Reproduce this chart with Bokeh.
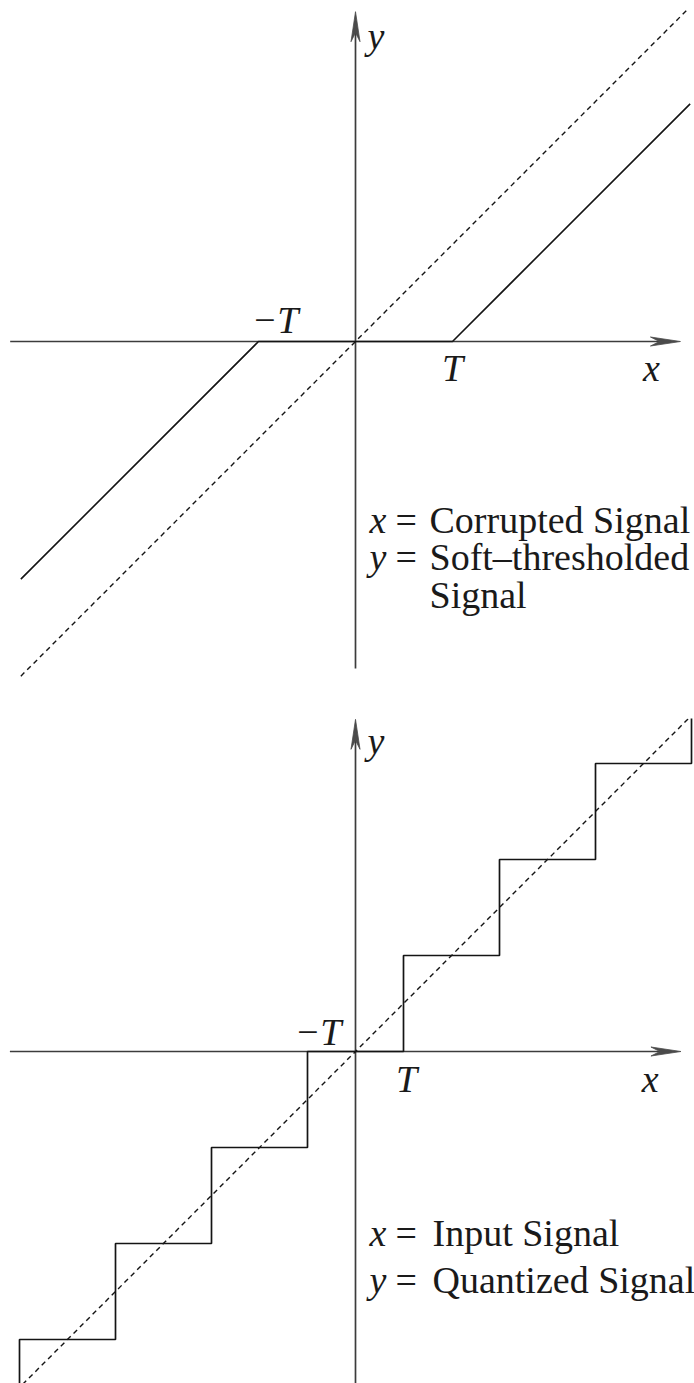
from bokeh.plotting import figure
from bokeh.layouts import column
from bokeh.models import Range1d, Label
from bokeh.embed import file_html
from bokeh.resources import INLINE

# ---- soft-threshold panel (threshold T = 1) ----
soft_T = 1.0
soft_in = [-3.45, -1.0, 1.0, 3.45]          # corrupted signal x
soft_out = [-2.45, 0.0, 0.0, 2.45]          # soft-thresholded y
soft_ident = [-3.45, 3.42]                  # extent of the dashed y = x line
soft_xaxis = [-3.56, 3.35]
soft_yaxis = [-3.37, 3.40]

# ---- quantizer panel (step q = 1, threshold T = q/2) ----
quant_T = 0.5
quant_edges = [-3.5, -2.5, -1.5, -0.5, 0.5, 1.5, 2.5, 3.5]
quant_levels = [-4, -3, -2, -1, 0, 1, 2, 3, 4]
quant_ident = [-3.6, 3.6]
quant_xaxis = [-3.6, 3.39]
quant_yaxis = [-3.46, 3.46]

W = 694
SERIF = "Liberation Serif"
AXIS_COL = "#3c3c3c"
INK = "#141414"
LIFT = 10   # raise every label a little above its nominal baseline


def make_panel(height, scale, ox, oy):
    """Figure whose frame spans the whole canvas; origin at pixel (ox, oy)."""
    p = figure(width=W, height=height, output_backend="svg", toolbar_location=None,
               x_axis_type=None, y_axis_type=None, min_border=0,
               x_range=Range1d(-ox / scale, (W - ox) / scale),
               y_range=Range1d(-(height - oy) / scale, oy / scale))
    p.grid.visible = False
    p.outline_line_color = None
    p.background_fill_color = "white"
    p.border_fill_color = "white"
    return p


def axes(p, scale, xspan, yspan):
    L, w, n = 30 / scale, 4.5 / scale, 9 / scale
    p.line([xspan[0], xspan[1] - L + n], [0, 0], line_color=AXIS_COL, line_width=1.7)
    p.line([0, 0], [yspan[0], yspan[1] - L + n], line_color=AXIS_COL, line_width=1.7)
    xt, yt = xspan[1], yspan[1]
    p.patch([xt, xt - L, xt - L + n, xt - L], [0, w, 0, -w],
            fill_color="#4a4a4a", line_color="#4a4a4a", line_width=0.8)
    p.patch([0, w, 0, -w], [yt, yt - L, yt - L + n, yt - L],
            fill_color="#4a4a4a", line_color="#4a4a4a", line_width=0.8)


def label(p, text, x, y, xo=0, yo=0, align="left", italic=True, size=38):
    p.add_layout(Label(x=x, y=y, x_offset=xo, y_offset=yo + LIFT, text=text,
                       text_font=SERIF, text_font_size=f"{size}px",
                       text_font_style="italic" if italic else "normal",
                       text_align=align, text_baseline="alphabetic",
                       text_color="#1a1a1a"))


# ---------------- top: soft thresholding ----------------
S1 = 97.0
p1 = make_panel(718, S1, 355, 341)
axes(p1, S1, soft_xaxis, soft_yaxis)
p1.line(soft_ident, soft_ident, line_color=INK, line_width=1.4, line_dash="5 4")
p1.line(soft_in, soft_out, line_color=INK, line_width=1.6)

label(p1, "y", 0, soft_yaxis[1], xo=12, yo=-34)
label(p1, "x", 3.05, 0, yo=-36, align="center")
label(p1, "T", soft_T, 0, yo=-36, align="center")
label(p1, "\u2212T", -soft_T, 0, xo=40, yo=12, align="right")

for txt_var, txt_rest, by in [("x", "Corrupted Signal", 529), ("y", "Soft\u2013thresholded", 566)]:
    yb = (341 - by) / S1
    label(p1, txt_var, 0, yb, xo=14)
    label(p1, "=", 0, yb, xo=40, italic=False)
    label(p1, txt_rest, 0, yb, xo=74, italic=False)
label(p1, "Signal", 0, (341 - 604) / S1, xo=74, italic=False)

# ---------------- bottom: quantization ----------------
S2 = 96.0
p2 = make_panel(665, S2, 355, 333)
axes(p2, S2, quant_xaxis, quant_yaxis)
p2.line(quant_ident, quant_ident, line_color=INK, line_width=1.4, line_dash="5 4")

qx, qy = [quant_edges[0]], [quant_levels[0]]
for i, e in enumerate(quant_edges):
    qx += [e, e]
    qy += [quant_levels[i], quant_levels[i + 1]]
p2.line(qx, qy, line_color=INK, line_width=1.7)

label(p2, "y", 0, quant_yaxis[1], xo=12, yo=-32)
label(p2, "x", 3.07, 0, yo=-37, align="center")
label(p2, "T", quant_T, 0, xo=3, yo=-37, align="center")
label(p2, "\u2212T", -quant_T, 0, xo=34, yo=10, align="right")

for txt_var, txt_rest, by in [("x", "Input Signal", 1242), ("y", "Quantized Signal", 1289)]:
    yb = (1051 - by) / S2
    label(p2, txt_var, 0, yb, xo=14)
    label(p2, "=", 0, yb, xo=40, italic=False)
    label(p2, txt_rest, 0, yb, xo=77, italic=False)

layout = column(p1, p2, spacing=0)
open("out.html", "w").write(file_html(layout, INLINE))
